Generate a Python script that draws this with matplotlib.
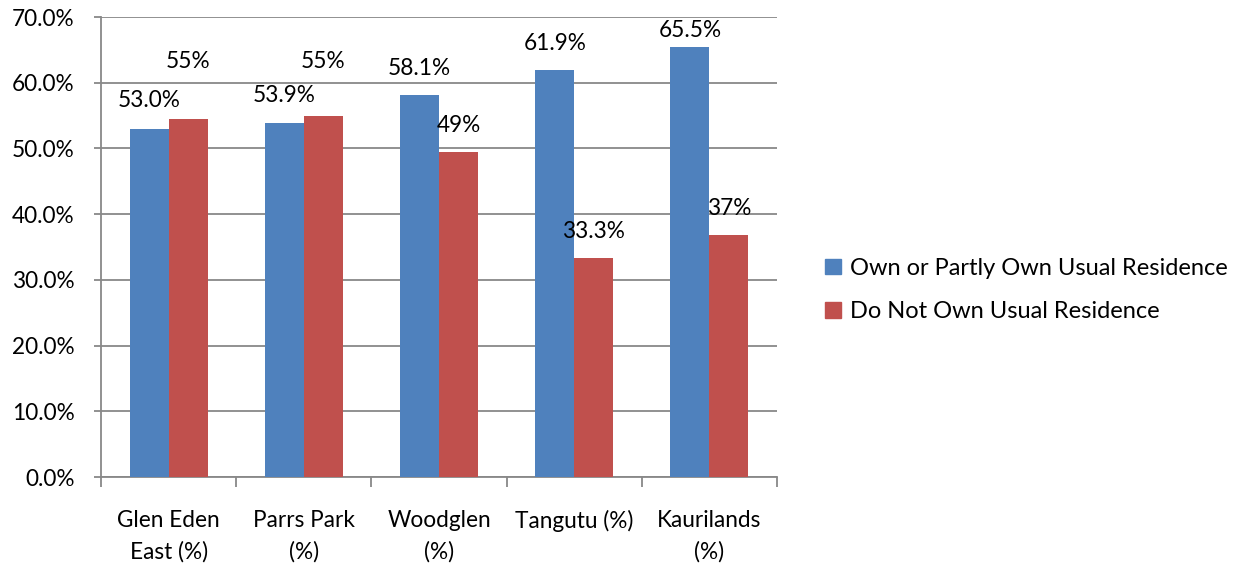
import matplotlib
matplotlib.use("Agg")
import matplotlib.pyplot as plt
from matplotlib.patches import Patch
import numpy as np

categories = ["Glen Eden\nEast (%)", "Parrs Park\n(%)", "Woodglen\n(%)", "Tangutu (%)", "Kaurilands\n(%)"]
own = [53.0, 53.9, 58.1, 61.9, 65.5]
not_own = [54.5, 55.0, 49.4, 33.3, 36.8]
own_labels = ["53.0%", "53.9%", "58.1%", "61.9%", "65.5%"]
not_own_labels = ["55%", "55%", "49%", "33.3%", "37%"]
series_names = ["Own or Partly Own Usual Residence", "Do Not Own Usual Residence"]
yticks = [0, 10, 20, 30, 40, 50, 60, 70]

BLUE = "#4F81BD"
RED = "#C0504D"
GRID = "#888888"
FONT = "Lato"
FS = 16.3

plt.rcParams['font.family'] = [FONT, 'DejaVu Sans']

W, H = 1245, 567
fig = plt.figure(figsize=(W / 100, H / 100), dpi=100)
ax = fig.add_axes([101 / W, (H - 477) / H, 676 / W, 460 / H])

x = np.arange(len(categories))
bw = 0.288
b1 = ax.bar(x - bw / 2, own, bw, color=BLUE, zorder=3)
b2 = ax.bar(x + bw / 2, not_own, bw, color=RED, zorder=3)

# label offsets in pixels above bar tops (approximate manual positions)
own_off = [28, 27, 27, 27, 16]
not_off = [57, 54, 27, 27, 27]
px2pt = 72 / 100
for i in range(len(x)):
    ax.annotate(own_labels[i], (x[i] - bw / 2, own[i]), xytext=(0, own_off[i] * px2pt),
                textcoords="offset points", ha="center", va="center", fontsize=FS, color="black")
    ax.annotate(not_own_labels[i], (x[i] + bw / 2, not_own[i]), xytext=(0, not_off[i] * px2pt),
                textcoords="offset points", ha="center", va="center", fontsize=FS, color="black")

ax.set_xlim(-0.5, len(categories) - 0.5)
ax.set_ylim(0, 70)
ax.set_yticks(yticks)
ax.set_yticklabels([f"{v:.1f}%" for v in yticks], fontsize=FS)
ax.yaxis.grid(True, color=GRID, linewidth=1.3, zorder=0)
ax.set_axisbelow(True)

ax.set_xticks(x)
ax.set_xticklabels(categories, fontsize=FS, linespacing=1.55)
ax.tick_params(axis="x", which="major", length=0, pad=24)
ax.set_xticks(np.arange(len(categories) + 1) - 0.5, minor=True)
ax.tick_params(axis="x", which="minor", length=7, width=1.3, color=GRID)
ax.tick_params(axis="y", length=5, width=1.3, color=GRID, pad=14)

for s in ["top", "right"]:
    ax.spines[s].set_visible(False)
for s in ["left", "bottom"]:
    ax.spines[s].set_color(GRID)
    ax.spines[s].set_linewidth(1.3)

handles = [Patch(color=BLUE), Patch(color=RED)]
fig.legend(handles, series_names, loc="center left", bbox_to_anchor=(816 / W, 1 - 290 / H),
           frameon=False, fontsize=17, handlelength=0.65, handleheight=0.65,
           handletextpad=0.4, labelspacing=0.95, borderaxespad=0)

fig.savefig("out.png", dpi=100)
